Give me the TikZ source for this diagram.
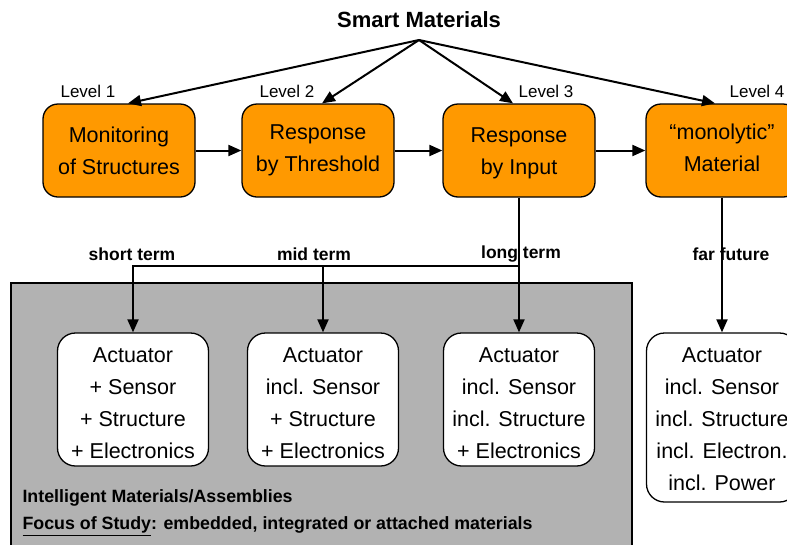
\documentclass[tikz,border=0pt]{standalone}
\usepackage{fontspec}
\setmainfont{Liberation Sans}
\usetikzlibrary{arrows.meta}
\definecolor{matorange}{RGB}{255,153,0}
\definecolor{boxgray}{RGB}{178,178,178}

\begin{document}
\begin{tikzpicture}[x=1pt,y=-1pt,>={Triangle[length=13pt,width=11pt]},
  lvlbox/.style={draw,line width=1.3pt,fill=matorange,rounded corners=15pt,minimum width=152pt,minimum height=93pt,align=center,font={\fontsize{21.5}{32}\selectfont}},
  actbox/.style={draw,line width=1.3pt,fill=white,rounded corners=18pt,minimum width=151pt,minimum height=133pt,align=center,inner sep=0pt,font={\fontsize{21.5}{32}\selectfont}},
  lvl/.style={font={\fontsize{17}{20}\selectfont}},
  term/.style={font={\bfseries\fontsize{17.5}{20}\selectfont}},
  note/.style={anchor=west,font={\bfseries\fontsize{17.8}{20}\selectfont}},
  arr/.style={->,line width=2pt}]
  \useasboundingbox (0,0) rectangle (787,544);
  % Gray study region
  \filldraw[fill=boxgray,draw=black,line width=1.3pt] (11,283) rectangle (632,560);
  % Title and levels
  \node[font={\bfseries\fontsize{22}{26}\selectfont}] (smart) at (419,20) {Smart Materials};
  \coordinate (hub) at (419,40);
  \node[lvlbox] (b1) at (119,150.5) {Monitoring\\of Structures};
  \node[lvlbox] (b2) at (318,150.5) {Response\\by Threshold};
  \node[lvlbox] (b3) at (519,150.5) {\rule{0pt}{21pt}Response\\by Input};
  \node[lvlbox] (b4) at (722,150.5) {“monolytic”\\Material\rule[-6pt]{0pt}{1pt}};
  \node[lvl] (l1) at (88,91) {Level 1};
  \node[lvl] (l2) at (287,91) {Level 2};
  \node[lvl] (l3) at (546,91) {Level 3};
  \node[lvl] (l4) at (757,91) {Level 4};
  \draw[arr] (hub) -- ([xshift=9pt]b1.north);
  \draw[arr] (hub) -- ([xshift=4pt]b2.north);
  \draw[arr] (hub) -- ([xshift=-6pt]b3.north);
  \draw[arr] (hub) -- ([xshift=-7pt]b4.north);
  \draw[arr] (b1) -- (b2);
  \draw[arr] (b2) -- (b3);
  \draw[arr] (b3) -- (b4);
  % Actuator stages
  \node[actbox] (a1) at (133,399.5) {\rule{0pt}{23pt}Actuator\\+ Sensor\\+ Structure\\+ Electronics};
  \node[actbox] (a2) at (323,399.5) {\rule{0pt}{23pt}Actuator\\incl. Sensor\\+ Structure\\+ Electronics};
  \node[actbox] (a3) at (519,399.5) {\rule{0pt}{23pt}Actuator\\incl. Sensor\\incl. Structure\\+ Electronics};
  \node[actbox,minimum height=169pt] (a4) at (722,417.5) {\rule{0pt}{19pt}Actuator\\incl. Sensor\\incl. Structure\\incl. Electron.\\incl. Power};
  \node[term] (t1) at (132,254) {short term};
  \node[term] (t2) at (314,254) {mid term};
  \node[term] (t3) at (521,254) {long term};
  \node[term] (t4) at (731,254) {far future};
  \coordinate (split) at (519,266);
  \draw[arr] (b3.south) -- (a3.north);
  \draw[arr] (split) -| (a1.north);
  \draw[arr] (a2.north |- split) -- (a2.north);
  \draw[arr] (b4.south) -- (a4.north);
  % Captions in the gray region
  \node[note] (intel) at (19,498) {Intelligent Materials/Assemblies};
  \node[note] (focus) at (19,526) {\underline{Focus of Study}: embedded, integrated or attached materials};
\end{tikzpicture}
\end{document}
